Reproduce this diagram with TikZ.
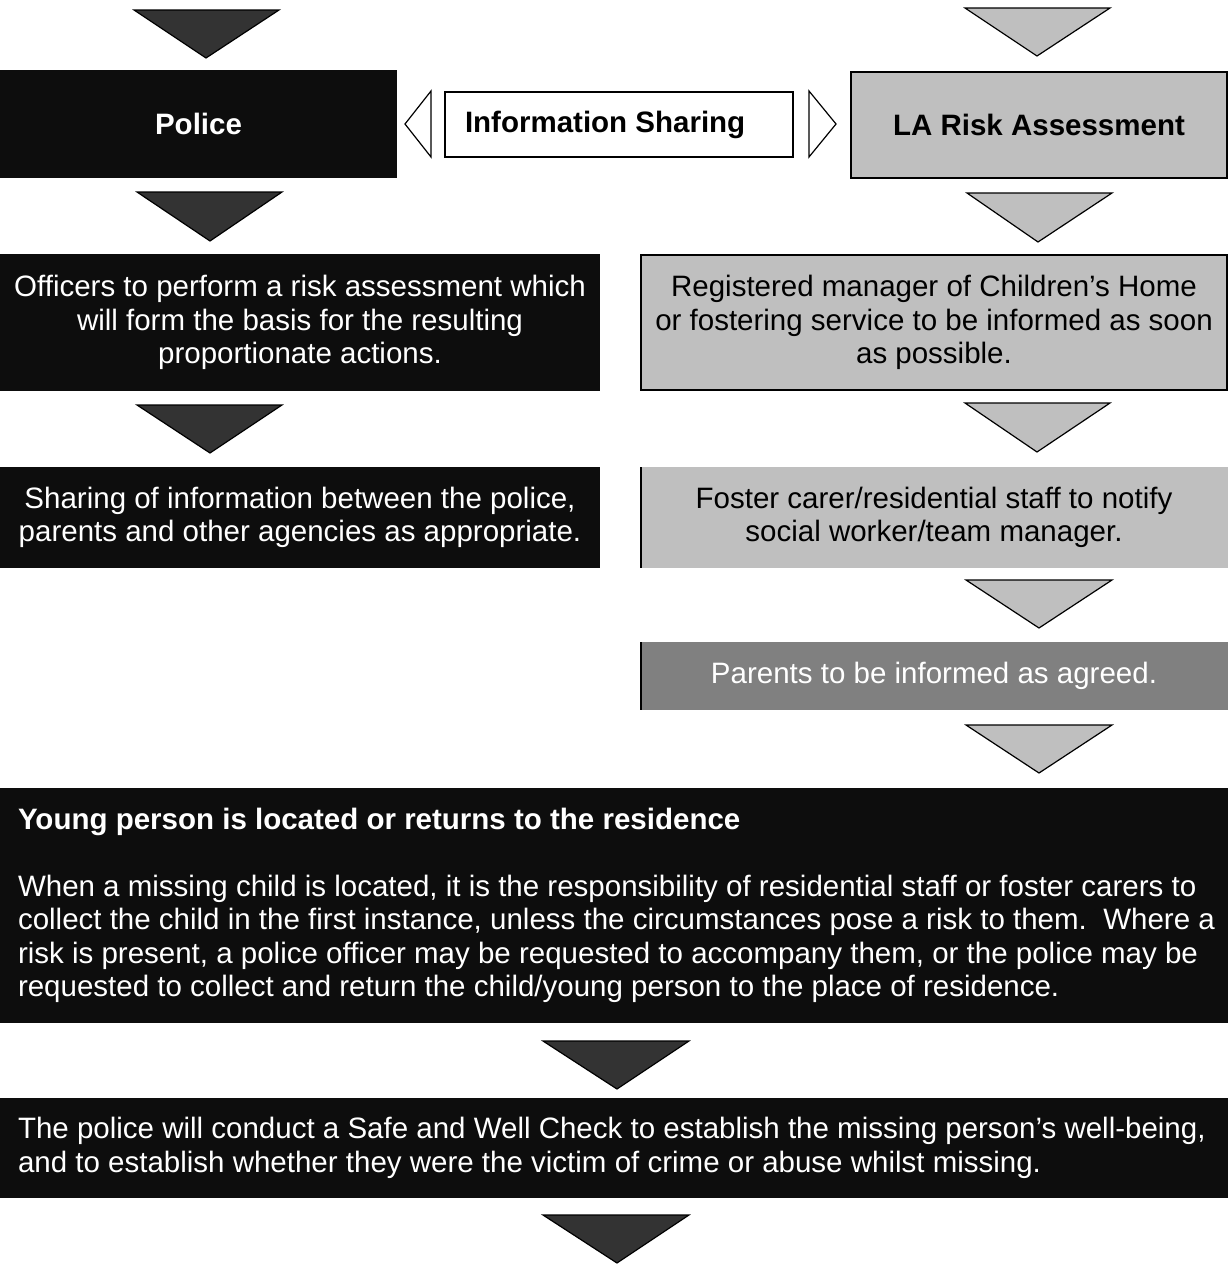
\documentclass[tikz,border=0pt]{standalone}
\usepackage{fontspec}
\setmainfont{Liberation Sans}
\definecolor{boxblack}{HTML}{0D0D0D}
\definecolor{tridark}{HTML}{333333}
\definecolor{boxgray}{HTML}{BFBFBF}
\definecolor{boxmid}{HTML}{808080}
\newcommand\bodyfont{\fontsize{29.5}{33.5}\selectfont}
\newcommand\headfont{\fontsize{29.5}{33.5}\selectfont\bfseries}
\begin{document}
\begin{tikzpicture}[x=1pt,y=-1pt,
  box/.style={anchor=north west, inner sep=0pt, outer sep=0pt, align=center, font=\bodyfont},
  blackbox/.style={box, fill=boxblack, text=white},
  graybox/.style={box, fill=boxgray, text=black},
  midbox/.style={box, fill=boxmid, text=white},
  freetext/.style={anchor=west, inner sep=0pt, outer sep=0pt, align=left, font=\bodyfont},
  darktri/.style={fill=tridark, draw=black, line width=1.2pt, line join=miter},
  lighttri/.style={fill=boxgray, draw=black, line width=1.2pt, line join=miter},
  sidetri/.style={fill=white, draw=black, line width=1.2pt, line join=miter},
  edgeline/.style={draw=black, line width=2pt}]
\useasboundingbox (0,0) rectangle (1228,1266);

% ---- top row ----
\draw[darktri] (134,10) -- (279,10) -- (206,58) -- cycle;
\draw[lighttri] (965,8) -- (1110,8) -- (1037,56) -- cycle;

\node[blackbox, minimum width=397pt, minimum height=108pt, font=\headfont] (police) at (0,70) {Police};

\node[box, fill=white, draw=black, line width=1.5pt, minimum width=348pt, minimum height=65pt] (info) at (445,92) {};
\node[freetext, font=\headfont] (infotext) at ([xshift=20pt]info.west) {Information Sharing};
\draw[sidetri] (431,91) -- (431,157) -- (405,124) -- cycle;
\draw[sidetri] (809,91) -- (809,157) -- (836,124) -- cycle;

\node[graybox, draw=black, line width=2.5pt, minimum width=376pt, minimum height=106pt, font=\headfont] (la) at (851,72) {LA Risk Assessment};

% ---- second row ----
\draw[darktri] (137,192) -- (282,192) -- (210,241) -- cycle;
\draw[lighttri] (967,193) -- (1112,193) -- (1038,242) -- cycle;

\node[blackbox, minimum width=600pt, minimum height=137pt] (officers) at (0,254)
  {Officers to perform a risk assessment which\\will form the basis for the resulting\\proportionate actions.};
\node[graybox, draw=black, line width=2pt, minimum width=586pt, minimum height=135pt] (registered) at (641,255)
  {Registered manager of Children’s Home\\or fostering service to be informed as soon\\as possible.};

% ---- third row ----
\draw[darktri] (137,405) -- (282,405) -- (210,453) -- cycle;
\draw[lighttri] (965,403) -- (1110,403) -- (1037,452) -- cycle;

\node[blackbox, minimum width=600pt, minimum height=101pt] (sharing) at (0,467)
  {Sharing of information between the police,\\parents and other agencies as appropriate.};
\node[graybox, minimum width=588pt, minimum height=101pt] (foster) at (640,467)
  {Foster carer/residential staff to notify\\social worker/team manager.};
\draw[edgeline] ([xshift=1pt]foster.north west) -- ([xshift=1pt]foster.south west);

% ---- parents ----
\draw[lighttri] (966,580) -- (1112,580) -- (1039,628) -- cycle;
\node[midbox, minimum width=588pt, minimum height=68pt] (parents) at (640,642)
  {Parents to be informed as agreed.};
\draw[edgeline] ([xshift=1pt]parents.north west) -- ([xshift=1pt]parents.south west);
\draw[lighttri] (966,725) -- (1112,725) -- (1039,773) -- cycle;

% ---- young person ----
\node[blackbox, minimum width=1228pt, minimum height=235pt] (young) at (0,788) {};
\node[freetext, text=white] (youngtext) at ([xshift=18pt]young.west)
  {\textbf{Young person is located or returns to the residence}\\[33.5pt]
   When a missing child is located, it is the responsibility of residential staff or foster carers to\\
   collect the child in the first instance, unless the circumstances pose a risk to them.\ \ Where a\\
   risk is present, a police officer may be requested to accompany them, or the police may be\\
   requested to collect and return the child/young person to the place of residence.};

\draw[darktri] (543,1041) -- (689,1041) -- (617,1089) -- cycle;

% ---- safe and well ----
\node[blackbox, minimum width=1228pt, minimum height=100pt] (safe) at (0,1098) {};
\node[freetext, text=white] (safetext) at ([xshift=18pt]safe.west)
  {The police will conduct a Safe and Well Check to establish the missing person’s well-being,\\
   and to establish whether they were the victim of crime or abuse whilst missing.};

\draw[darktri] (543,1215) -- (689,1215) -- (617,1263) -- cycle;
\end{tikzpicture}
\end{document}
